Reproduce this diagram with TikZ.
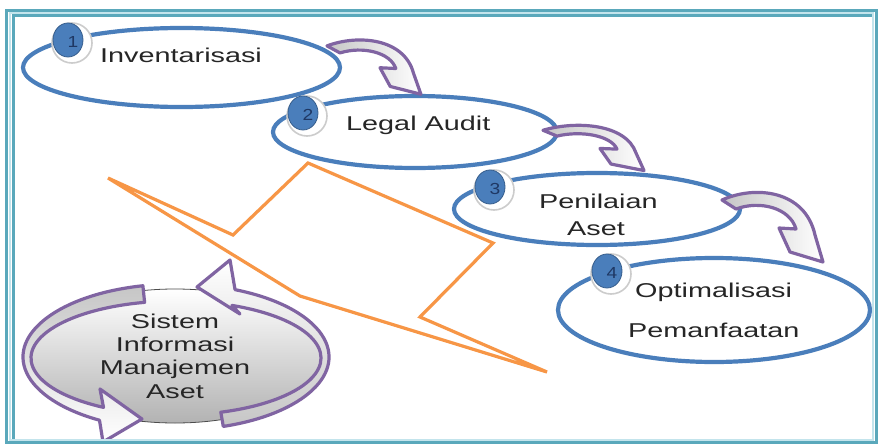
\documentclass[tikz,border=0pt]{standalone}
\usepackage{fontspec}
\setmainfont{Liberation Sans}
\newfontfamily\widesans[FakeStretch=1.44]{Liberation Sans}
\newfontfamily\digitsans[FakeStretch=1.2]{Liberation Sans}
\usetikzlibrary{shapes.geometric,calc}

\definecolor{stepblue}{HTML}{4A7EBB}
\definecolor{bandpurple}{HTML}{8064A2}
\definecolor{boltorange}{HTML}{F79646}
\definecolor{frameteal}{HTML}{5AA8BB}
\definecolor{framelight}{HTML}{C3E4EC}
\definecolor{digitnavy}{HTML}{1F3864}
\definecolor{labelgrey}{HTML}{262626}

\tikzset{
  stage/.style={ellipse, draw=stepblue, line width=4.2pt, fill=white, inner sep=0pt},
  steplabel/.style={inner sep=0pt, text=labelgrey, font=\widesans\fontsize{20}{23}\selectfont},
  badgering/.style={circle, minimum size=40pt, inner sep=0pt, fill=white, draw=gray!40, line width=1.6pt},
  badgeball/.style={ellipse, minimum width=30pt, minimum height=34pt, inner sep=0pt,
    fill=stepblue, draw=stepblue!75!black, line width=0.8pt},
  badgedigit/.style={inner sep=0pt, text=digitnavy, font=\digitsans\fontsize{16}{16}\selectfont},
  stepband/.style={draw=bandpurple, line width=3.2pt, line join=round, left color=gray!45, right color=white},
  ringband/.style={draw=bandpurple, line width=3.2pt, line join=round},
  simdisc/.style={ellipse, minimum width=296pt, minimum height=134pt, inner sep=0pt,
    draw=gray!60!black, line width=0.8pt, top color=white, bottom color=gray!60,
    align=center, text=labelgrey, font=\widesans\fontsize{20}{23.3}\selectfont},
  bolt/.style={draw=boltorange, line width=3.2pt, line join=miter},
  bentarrow/.pic={
    \path[stepband] (0,5) .. controls (33,-10) and (83,-5) .. (93,40) -- (101,67) -- (68,57)
      -- (57,33) -- (74,34) .. controls (68,13) and (38,5) .. (14,14) -- cycle;
  }
}

\begin{document}
\begin{tikzpicture}[x=1pt,y=-1pt]
  \useasboundingbox (0,0) rectangle (878,444);
  \fill[white] (0,0) rectangle (878,444);

  % the four stages
  \node[stage, minimum width=317pt, minimum height=79pt] (e1) at (181.5,67.5) {};
  \node[stage, minimum width=284pt, minimum height=72pt] (e2) at (415,132) {};
  \node[stage, minimum width=286pt, minimum height=72pt] (e3) at (597,209) {};
  \node[stage, minimum width=312pt, minimum height=104pt] (e4) at (714,310) {};

  % bent arrows from one stage to the next
  \pic[xscale=0.93, yscale=0.78] (a1) at (327,42) {bentarrow};
  \pic[yscale=0.65] (a2) at (543,127) {bentarrow};
  \pic (a3) at (722,195) {bentarrow};

  % numbered badges
  \foreach \n/\x/\y in {1/68/40, 2/303/113, 3/490/187, 4/607/271} {
    \node[badgering] (r\n) at (\x+4,\y+3) {};
    \node[badgeball] (b\n) at (\x,\y) {};
    \node[badgedigit] (d\n) at (\x+5,\y+2) {\n};
  }

  % stage labels
  \node[steplabel, anchor=base west] (t1) at (100,63) {Inventarisasi};
  \node[steplabel, anchor=base west] (t2) at (346,130) {Legal Audit};
  \node[steplabel, anchor=base west] (t3a) at (539,208) {Penilaian};
  \node[steplabel, anchor=base west] (t3b) at (567,235) {Aset};
  \node[steplabel, anchor=base west] (t4a) at (635,297) {Optimalisasi};
  \node[steplabel, anchor=base west] (t4b) at (628,337) {Pemanfaatan};

  % information system disc with its circular arrows
  \node[simdisc] (sim) at (175,356) {Sistem\\Informasi\\Manajemen\\Aset};
  \coordinate (ringout) at (176,357);
  \coordinate (ringin) at (176,358);
  \path[ringband, top color=gray!45, bottom color=white]
    ($(ringout)+(257.5:153 and 73)$) arc[start angle=257.5, end angle=120, x radius=153, y radius=73]
    -- (103,442) -- (142,419) -- (100,389)
    -- ($(ringin)+(120:145 and 57)$) arc[start angle=120, end angle=257.5, x radius=145, y radius=57]
    -- cycle;
  \path[ringband, bottom color=gray!45, top color=white]
    ($(ringout)+(72:153 and 73)$) arc[start angle=72, end angle=-67.3, x radius=153, y radius=73]
    -- (230,260) -- (197,287) -- (240,314)
    -- ($(ringin)+(-67.3:145 and 57)$) arc[start angle=-67.3, end angle=72, x radius=145, y radius=57]
    -- cycle;

  % lightning bolt
  \draw[bolt] (108,178) -- (233,235) -- (308,163) -- (493,243) -- (420,317)
    -- (547,372) -- (300,296) -- cycle;

  % frame
  \draw[frameteal, line width=3pt] (6.5,10.5) rectangle (876,442.5);
  \draw[framelight, line width=2pt] (9.5,13) rectangle (873,439.5);
  \draw[frameteal, line width=3pt] (13.5,438.5) -- (13.5,15.5) -- (872,15.5);
\end{tikzpicture}
\end{document}
